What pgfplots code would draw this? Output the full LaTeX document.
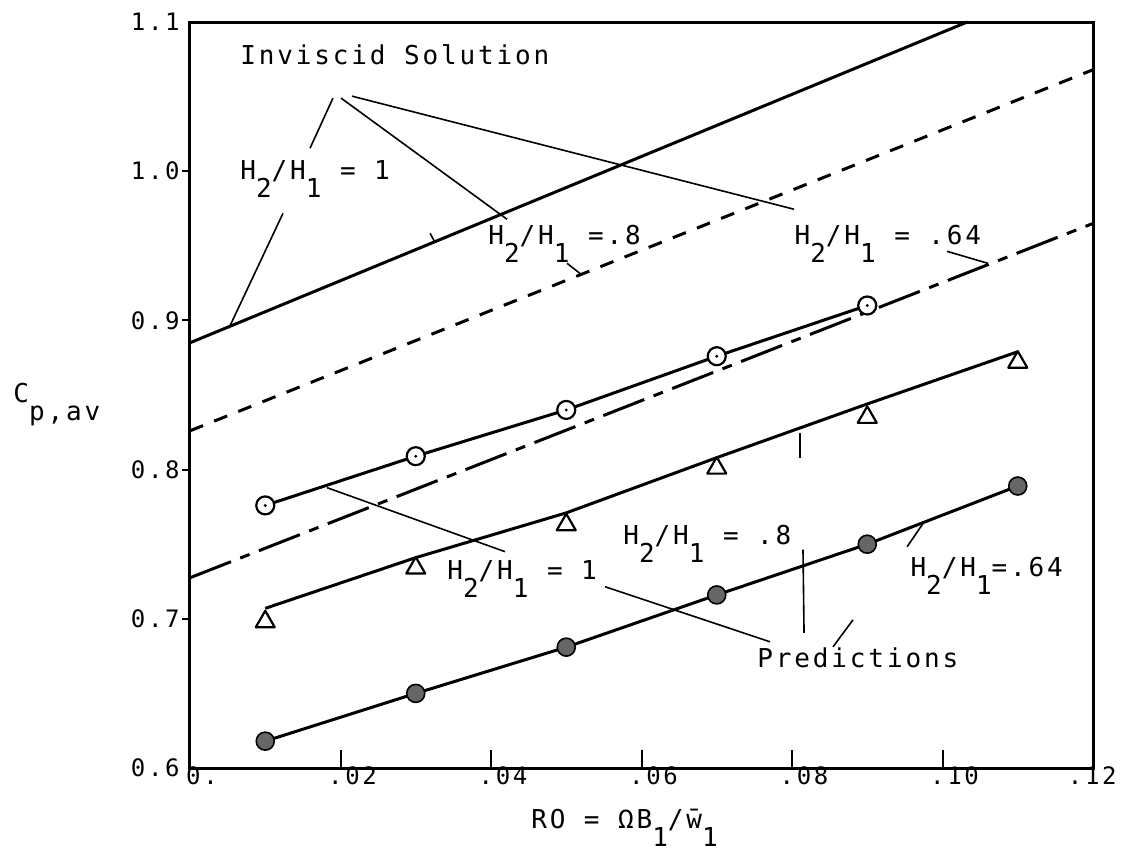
\documentclass[border=0pt]{standalone}
\usepackage{fontspec}
\usepackage{pgfplots}
\pgfplotsset{compat=1.18}
\newfontfamily\mono{DejaVu Sans Mono}[LetterSpace=11]
\newcommand\lab{\mono\fontsize{13}{15}\selectfont}
\newcommand\tlab{\mono\fontsize{12}{14}\selectfont}
\newcommand\sub[1]{\raisebox{-0.7em}{#1}}

% open circle with a centre dot
\pgfdeclareplotmark{odot}{%
  \pgfsetfillcolor{white}%
  \pgfpathcircle{\pgfpointorigin}{\pgfplotmarksize}%
  \pgfusepathqfillstroke
  \pgfsetfillcolor{black}%
  \pgfpathcircle{\pgfpointorigin}{0.8pt}%
  \pgfusepathqfill}

\begin{document}
\begin{tikzpicture}
\useasboundingbox (-95pt,-47pt) rectangle (466pt,384pt);
\begin{axis}[
  at={(0pt,0pt)}, anchor=south west,
  scale only axis, width=451.5pt, height=373pt,
  xmin=0, xmax=0.12, ymin=0.6, ymax=1.1,
  clip=false,
  axis line style={line width=1.5pt},
  tick style={draw=none},
  xtick={0,0.02,0.04,0.06,0.08,0.10,0.12},
  xticklabels={0.,.02,.04,.06,.08,.10,},
  ytick={0.6,0.7,0.8,0.9,1.0,1.1},
  yticklabels={0.6,0.7,0.8,0.9,1.0,1.1},
  xticklabel style={font=\tlab, anchor=base, inner sep=0pt, yshift=-8pt, xshift=6pt},
  yticklabel style={font=\tlab, anchor=east, inner sep=0pt, xshift=-5pt},
]
% tick marks
\draw[line width=1pt] (axis cs:0.02,0.6) -- ++(0pt,9pt);
\draw[line width=1pt] (axis cs:0.04,0.6) -- ++(0pt,9pt);
\draw[line width=1pt] (axis cs:0.06,0.6) -- ++(0pt,9pt);
\draw[line width=1pt] (axis cs:0.08,0.6) -- ++(0pt,9pt);
\draw[line width=1pt] (axis cs:0.10,0.6) -- ++(0pt,9pt);
\draw[line width=1pt] (axis cs:0,0.7) -- ++(-4pt,0pt);
\draw[line width=1pt] (axis cs:0,0.8) -- ++(-4pt,0pt);
\draw[line width=1pt] (axis cs:0,0.9) -- ++(-4pt,0pt);
\draw[line width=1pt] (axis cs:0,1.0) -- ++(-4pt,0pt);
\node[anchor=base east, inner sep=0pt, font=\tlab, xshift=12pt, yshift=-8pt] at (axis cs:0.12,0.6) {.12};

% inviscid solutions
\addplot[line width=1.5pt] coordinates {(0,0.885) (0.1033,1.1)};
\addplot[line width=1.5pt, dash pattern=on 7pt off 6pt] coordinates {(0,0.826) (0.12,1.068)};
\addplot[line width=1.5pt, dash pattern=on 22pt off 5pt on 5pt off 5pt] coordinates {(0,0.7275) (0.12,0.965)};

% H2/H1 = 1
\addplot[line width=1.5pt, mark=odot, mark size=4.5pt, mark options={line width=1.1pt}]
  coordinates {(0.01,0.776) (0.03,0.809) (0.05,0.840) (0.07,0.876) (0.09,0.910)};
% H2/H1 = .8 prediction and data
\addplot[line width=1.5pt]
  coordinates {(0.01,0.707) (0.03,0.741) (0.05,0.771) (0.07,0.808) (0.08,0.826) (0.09,0.844) (0.11,0.879)};
\addplot[only marks, mark=triangle, mark size=5.5pt, mark options={line width=1.1pt, fill=white, line join=round}]
  coordinates {(0.01,0.698) (0.03,0.734) (0.05,0.763) (0.07,0.801) (0.09,0.835) (0.11,0.872)};
% H2/H1 = .64
\addplot[line width=1.5pt, mark=*, mark size=4.5pt, mark options={fill=black!60, draw=black, line width=0.8pt}]
  coordinates {(0.01,0.618) (0.03,0.650) (0.05,0.681) (0.07,0.716) (0.09,0.750) (0.11,0.789)};

% labels
\node[anchor=base west, inner sep=0pt, font=\lab] at (axis cs:0.00664,1.0713) {Inviscid Solution};
\node[anchor=base west, inner sep=0pt, font=\lab] at (axis cs:0.00664,0.9946) {H\sub{2}/H\sub{1} = 1};
\node[anchor=base west, inner sep=0pt, font=\lab] at (axis cs:0.0396,0.951) {H\sub{2}/H\sub{1} =.8};
\node[anchor=base west, inner sep=0pt, font=\lab] at (axis cs:0.0803,0.951) {H\sub{2}/H\sub{1} = .64};
\node[anchor=base west, inner sep=0pt, font=\lab] at (axis cs:0.03415,0.7262) {H\sub{2}/H\sub{1} = 1};
\node[anchor=base west, inner sep=0pt, font=\lab] at (axis cs:0.05754,0.7497) {H\sub{2}/H\sub{1} = .8};
\node[anchor=base west, inner sep=0pt, font=\lab] at (axis cs:0.0957,0.7282) {H\sub{2}/H\sub{1}=.64};
\node[anchor=base west, inner sep=0pt, font=\lab] at (axis cs:0.07535,0.6671) {Predictions};
\node[anchor=base west, inner sep=0pt, font=\lab] at (axis cs:-0.02352,0.8449) {C\sub{p,av}};
\node[anchor=base west, inner sep=0pt, font=\lab] at (axis cs:0.0453,0.5597) {RO = ΩB\sub{1}/\=w\sub{1}};

% leader lines
\draw[line width=0.8pt] (axis cs:0.0190,1.0490) -- (axis cs:0.01595,1.0154);
\draw[line width=0.8pt] (axis cs:0.02007,1.0490) -- (axis cs:0.04213,0.9678);
\draw[line width=0.8pt] (axis cs:0.02153,1.0503) -- (axis cs:0.08027,0.9745);
\draw[line width=0.8pt] (axis cs:0.01236,0.9718) -- (axis cs:0.00518,0.8949);
\draw[line width=0.8pt] (axis cs:0.0501,0.9383) -- (axis cs:0.05196,0.9309);
\draw[line width=0.8pt] (axis cs:0.0319,0.9584) -- (axis cs:0.03256,0.9523);
\draw[line width=0.8pt] (axis cs:0.1006,0.9463) -- (axis cs:0.1060,0.9383);
\draw[line width=0.8pt] (axis cs:0.01821,0.7879) -- (axis cs:0.04186,0.745);
\draw[line width=0.8pt] (axis cs:0.05515,0.7215) -- (axis cs:0.07708,0.6846);
\draw[line width=0.8pt] (axis cs:0.08106,0.8244) -- (axis cs:0.08106,0.8077);
\draw[line width=0.8pt] (axis cs:0.08146,0.7463) -- (axis cs:0.0816,0.6906);
\draw[line width=0.8pt] (axis cs:0.0953,0.7483) -- (axis cs:0.0974,0.7638);
\draw[line width=0.8pt] (axis cs:0.08545,0.6812) -- (axis cs:0.0881,0.6993);
\end{axis}
\end{tikzpicture}
\end{document}
